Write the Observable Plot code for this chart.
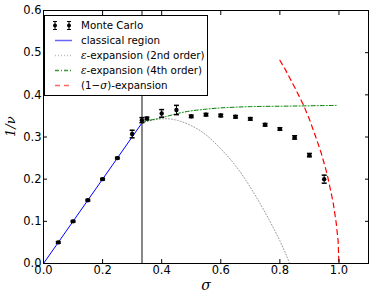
<!DOCTYPE html>
<html>
<head>
<meta charset="utf-8">
<script src="https://cdn.jsdelivr.net/npm/d3@7"></script>
<script src="https://cdn.jsdelivr.net/npm/@observablehq/plot@0.6"></script>
<style>
  html, body { margin: 0; padding: 0; background: #fff; }
  #wrap { position: relative; width: 374px; height: 300px; font-family: "DejaVu Sans", sans-serif; }
  #legend { position: absolute; left: 44px; top: 15px; width: 162px; height: 79px; border: 1px solid #000; background: #fff; font-size: 10.3px; }
  .row { position: absolute; left: 0; height: 15px; width: 160px; }
  .row > svg { position: absolute; left: 6px; top: 0; }
  .row > span { position: absolute; left: 36px; top: 0; white-space: nowrap; line-height: 15px; }
  .m { font-family: "DejaVu Serif", serif; font-style: italic; }
</style>
</head>
<body>
<div id="wrap"></div>
<script>
// Monte Carlo data
const mcSigma = [0.05, 0.10, 0.15, 0.20, 0.25, 0.30, 0.333, 0.35, 0.40, 0.45, 0.50, 0.55, 0.60, 0.65, 0.70, 0.75, 0.80, 0.85, 0.90, 0.95];
const mcInvNu = [0.050, 0.100, 0.150, 0.200, 0.250, 0.307, 0.340, 0.344, 0.356, 0.364, 0.349, 0.353, 0.351, 0.348, 0.343, 0.329, 0.319, 0.299, 0.257, 0.200];
const mcErr   = [0.002, 0.002, 0.002, 0.002, 0.002, 0.009, 0.006, 0.003, 0.009, 0.011, 0.003, 0.003, 0.003, 0.003, 0.003, 0.003, 0.003, 0.004, 0.004, 0.0095];

// classical region
const classicalSigma = [0, 0.3333];
const classicalInvNu = [0, 0.3333];

// epsilon-expansion 2nd order
const eps2Sigma = [0.333, 0.35, 0.40, 0.45, 0.50, 0.55, 0.60, 0.65, 0.70, 0.75, 0.80, 0.833];
const eps2InvNu = [0.333, 0.337, 0.343, 0.340, 0.327, 0.305, 0.272, 0.232, 0.181, 0.121, 0.054, 0.000];

// epsilon-expansion 4th order
const eps4Sigma = [0.333, 0.35, 0.40, 0.45, 0.50, 0.55, 0.60, 0.70, 0.80, 0.90, 0.995];
const eps4InvNu = [0.333, 0.338, 0.346, 0.355, 0.362, 0.366, 0.369, 0.372, 0.373, 0.374, 0.375];

// (1-sigma)-expansion
const oneSigma = [0.80, 0.82, 0.85, 0.88, 0.90, 0.92, 0.94, 0.96, 0.98, 0.99, 0.997, 1.0];
const oneInvNu = [0.482, 0.458, 0.418, 0.376, 0.342, 0.303, 0.262, 0.212, 0.146, 0.100, 0.055, 0.0];

const boundarySigma = [1/3];

const xTicks = [0, 0.2, 0.4, 0.6, 0.8, 1.0];
const yTicks = [0, 0.1, 0.2, 0.3, 0.4, 0.5, 0.6];

const zip = (xs, ys) => xs.map((x, i) => ({x, y: ys[i]}));
const mc = mcSigma.map((x, i) => ({x, y: mcInvNu[i], lo: mcInvNu[i] - mcErr[i], hi: mcInvNu[i] + mcErr[i]}));

const capSymbol = {
  draw(context, size) {
    const w = 2.5;
    context.moveTo(-w, 0);
    context.lineTo(w, 0);
  }
};

const fmt = d => d.toFixed(1);

const chart = Plot.plot({
  width: 374,
  height: 300,
  marginLeft: 43,
  marginRight: 6,
  marginTop: 10,
  marginBottom: 37,
  style: {fontFamily: "DejaVu Sans, sans-serif", fontSize: "11px", background: "#fff", overflow: "visible"},
  x: {domain: [0, 1.1], label: null},
  y: {domain: [0, 0.6], label: null},
  marks: [
    Plot.ruleX(boundarySigma, {x: d => d, stroke: "#555", strokeWidth: 1.4}),
    Plot.line(zip(classicalSigma, classicalInvNu), {x: "x", y: "y", stroke: "blue", strokeWidth: 1}),
    Plot.line(zip(eps2Sigma, eps2InvNu), {x: "x", y: "y", stroke: "#999", strokeWidth: 1, strokeDasharray: "1,2", curve: "natural"}),
    Plot.line(zip(eps4Sigma, eps4InvNu), {x: "x", y: "y", stroke: "green", strokeWidth: 1, strokeDasharray: "4,2,1,2", curve: "natural"}),
    Plot.line(zip(oneSigma, oneInvNu), {x: "x", y: "y", stroke: "red", strokeWidth: 1.2, strokeDasharray: "5,4"}),
    Plot.ruleX(mc, {x: "x", y1: "lo", y2: "hi", stroke: "black", strokeWidth: 1}),
    Plot.dot(mc, {x: "x", y: "lo", symbol: capSymbol, stroke: "black", fill: "none", r: 3}),
    Plot.dot(mc, {x: "x", y: "hi", symbol: capSymbol, stroke: "black", fill: "none", r: 3}),
    Plot.dot(mc, {x: "x", y: "y", r: 2.2, fill: "black", stroke: "none"}),
    Plot.frame({stroke: "black", strokeWidth: 1}),
    Plot.axisX(xTicks, {anchor: "bottom", label: null, tickSize: -4, tickPadding: 6, tickFormat: fmt, fill: "black", fontSize: 11.5}),
    Plot.axisX(xTicks, {anchor: "top", label: null, tickSize: -4, tickFormat: () => ""}),
    Plot.axisY(yTicks, {anchor: "left", label: null, tickSize: -4, tickPadding: 6, tickFormat: fmt, fill: "black", fontSize: 11.5}),
    Plot.axisY(yTicks, {anchor: "right", label: null, tickSize: -4, tickFormat: () => ""}),
    Plot.text(["σ"], {frameAnchor: "bottom", dy: 26, text: d => d, fontFamily: "DejaVu Serif, serif", fontStyle: "italic", fontSize: 14, fill: "black"}),
    Plot.text(["1/ν"], {frameAnchor: "left", dx: -33, rotate: -90, text: d => d, fontFamily: "DejaVu Serif, serif", fontStyle: "italic", fontSize: 13, fill: "black"})
  ]
});

const wrap = document.getElementById("wrap");
wrap.appendChild(chart);

const legendItems = [
  {label: "Monte Carlo", type: "mc"},
  {label: "classical region", type: "line", color: "#6666ff", dash: null},
  {label: '<span class="m">ε</span>-expansion (2nd order)', type: "line", color: "#bbb", dash: "1,2"},
  {label: '<span class="m">ε</span>-expansion (4th order)', type: "line", color: "#3a9a3a", dash: "4,2,1,2"},
  {label: '(1−<span class="m">σ</span>)-expansion', type: "line", color: "#ff6666", dash: "5,4"}
];
const legend = document.createElement("div");
legend.id = "legend";
legendItems.forEach((it, i) => {
  const row = document.createElement("div");
  row.className = "row";
  row.style.top = (1.5 + i * 15) + "px";
  let sw;
  if (it.type === "mc") {
    sw = `<svg width="26" height="15">` +
      [4, 18].map(cx => `<line x1="${cx}" x2="${cx}" y1="3.5" y2="11.5" stroke="black"/>` +
        `<line x1="${cx-2}" x2="${cx+2}" y1="3.5" y2="3.5" stroke="black"/>` +
        `<line x1="${cx-2}" x2="${cx+2}" y1="11.5" y2="11.5" stroke="black"/>` +
        `<circle cx="${cx}" cy="7.5" r="2" fill="black"/>`).join("") + `</svg>`;
  } else {
    sw = `<svg width="26" height="15"><line x1="4" x2="21" y1="7.5" y2="7.5" stroke="${it.color}" stroke-width="1.5" ${it.dash ? `stroke-dasharray="${it.dash}"` : ""}/></svg>`;
  }
  row.innerHTML = sw + `<span>${it.label}</span>`;
  legend.appendChild(row);
});
wrap.appendChild(legend);
</script>
</body>
</html>
